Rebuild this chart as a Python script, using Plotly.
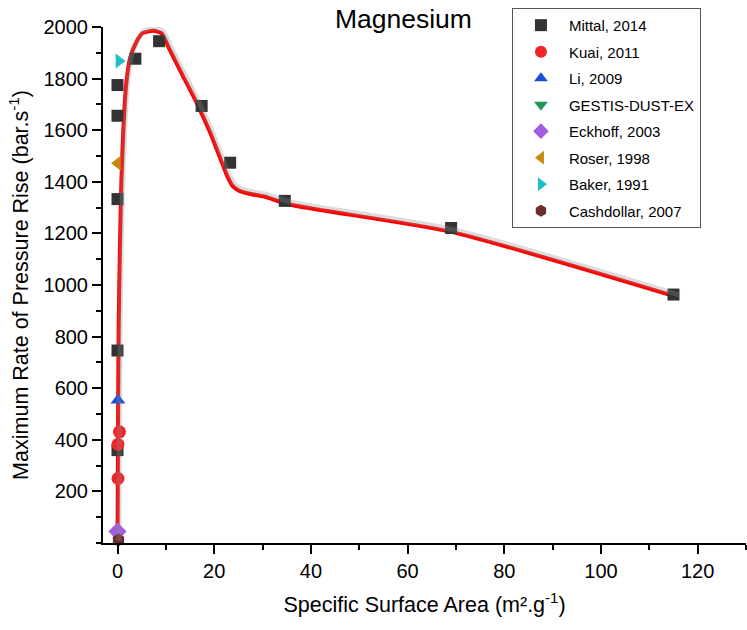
import plotly.graph_objects as go

# ---- data ----
mittal_x = [0, 0, 0, 0, 0, 3.7, 8.6, 17.4, 23.3, 34.6, 69, 115]
mittal_y = [360, 746, 1333, 1656, 1775, 1877, 1945, 1694, 1474, 1326, 1221, 963]
kuai_x = [0.4, 0.1, 0.1]
kuai_y = [431, 382, 250]
li_x = [0.1]
li_y = [553]
gestis_x = [0.0]
gestis_y = [35]
eckhoff_x = [0.0]
eckhoff_y = [45]
roser_x = [0.0]
roser_y = [1472]
baker_x = [0.3]
baker_y = [1868]
cash_x = [0.2]
cash_y = [12]

fit_x = [0.0, 0.05, 0.12, 0.25, 0.5, 0.8, 1.2, 1.8, 2.6, 3.9, 5.2, 7.4, 9.1,
         10.8, 13.6, 16.4, 19.2, 21.9, 22.8, 23.8, 25.2, 27.5, 30.3, 35.8, 69, 116]
fit_y = [0, 200, 500, 850, 1150, 1400, 1600, 1780, 1880, 1942, 1976, 1985, 1976,
         1912, 1808, 1705, 1589, 1460, 1418, 1384, 1365, 1353, 1343, 1311, 1206, 952]

y_ticks = [200, 400, 600, 800, 1000, 1200, 1400, 1600, 1800, 2000]
x_ticks = [0, 20, 40, 60, 80, 100, 120]

FONT = "Liberation Sans, Arial, sans-serif"

fig = go.Figure()

# fitted curve shadow + line
fig.add_trace(go.Scatter(x=fit_x, y=fit_y, mode="lines", showlegend=False,
                         line=dict(color="rgba(140,140,140,0.3)", width=5, shape="spline", smoothing=0.6),
                         xaxis="x2", yaxis="y2", hoverinfo="skip"))
fig.add_trace(go.Scatter(x=fit_x, y=fit_y, mode="lines", showlegend=False,
                         line=dict(color="#FF0000", width=4, shape="spline", smoothing=0.6)))

def add(name, xs, ys, symbol, color, size=12):
    fig.add_trace(go.Scatter(x=xs, y=ys, mode="markers", name=name, legendgroup=name,
                             marker=dict(symbol=symbol, color=color, size=size, line=dict(width=0)),
                             cliponaxis=False))

add("Mittal, 2014", mittal_x, mittal_y, "square", "#333333", 12)
add("Kuai, 2011", kuai_x, kuai_y, "circle", "#F0252A", 13)
add("Li, 2009", li_x, li_y, "triangle-up", "#1A4FD6", 13)
add("GESTIS-DUST-EX", gestis_x, gestis_y, "triangle-down", "#23955A", 13)
add("Eckhoff, 2003", eckhoff_x, eckhoff_y, "diamond", "#A35CDD", 14)
add("Roser, 1998", roser_x, roser_y, "triangle-left", "#C88A0C", 13)
add("Baker, 1991", baker_x, baker_y, "triangle-right", "#1CC0C4", 13)
add("Cashdollar, 2007", cash_x, cash_y, "hexagon", "#6B2E2E", 13)

axis_common = dict(showline=True, linecolor="black", linewidth=2, ticks="outside",
                   ticklen=9, tickwidth=2, tickcolor="black", showgrid=False, zeroline=False,
                   automargin=False,
                   tickfont=dict(family=FONT, size=20, color="black"))

fig.update_layout(
    width=747, height=630,
    margin=dict(l=103, r=1, t=27, b=87),
    paper_bgcolor="white", plot_bgcolor="white",
    font=dict(family=FONT, color="black"),
    title=dict(text="Magnesium", x=0.540, xanchor="center", y=0.971, yanchor="middle",
               font=dict(family=FONT, size=26.5, color="black")),
    xaxis=dict(range=[-3, 130], tickvals=x_ticks,
               minor=dict(dtick=10, tick0=0, ticks="outside", ticklen=5, tickwidth=2, tickcolor="black"),
               title=dict(text="Specific Surface Area (m².g<sup>-1</sup>)", standoff=16,
                          font=dict(family=FONT, size=21.5, color="black")),
               **axis_common),
    yaxis=dict(range=[0, 2000], tickvals=y_ticks,
               minor=dict(dtick=100, tick0=0, ticks="outside", ticklen=5, tickwidth=2, tickcolor="black"),
               title=dict(text="Maximum Rate of Pressure Rise (bar.s<sup>-1</sup>)", standoff=9,
                          font=dict(family=FONT, size=21.5, color="black")),
               **axis_common),
    xaxis2=dict(range=[-3.3, 129.7], overlaying="x", visible=False),
    yaxis2=dict(range=[-9, 1991], overlaying="y", visible=False),
    legend=dict(x=0.636, y=1.037, xanchor="left", yanchor="top", bgcolor="white",
                bordercolor="#555555", borderwidth=1, itemwidth=46,
                font=dict(family=FONT, size=15, color="black"),
                traceorder="grouped", tracegroupgap=4, itemsizing="constant"),
)

fig.write_html("out.html", config={"displayModeBar": False},
               post_script="document.body.style.margin='0px';")
